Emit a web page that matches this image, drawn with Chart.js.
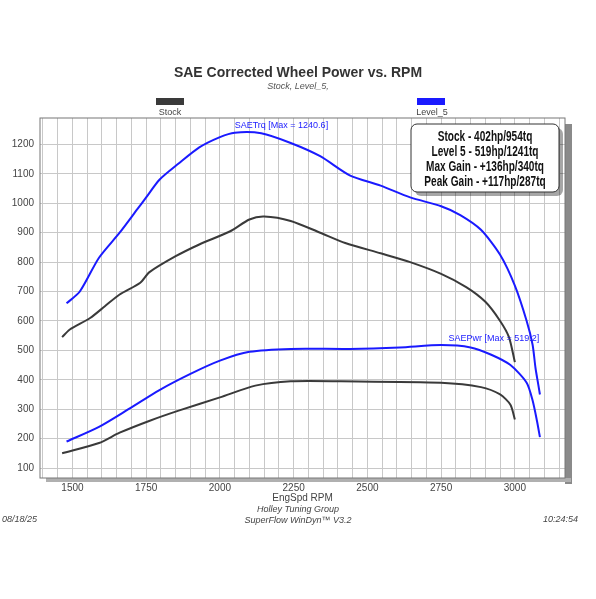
<!DOCTYPE html>
<html>
<head>
<meta charset="utf-8">
<script src="https://cdn.jsdelivr.net/npm/chart.js@4/dist/chart.umd.min.js"></script>
<style>
  html, body { margin: 0; padding: 0; background: #fff; }
  #wrap { width: 596px; height: 599px; position: relative; }
</style>
</head>
<body>
<div id="wrap"><canvas id="c" width="596" height="599"></canvas></div>
<script>
const stockTrqRpm = [1465, 1490, 1560, 1610, 1660, 1730, 1760, 1850, 1930, 2035, 2100, 2150, 2240, 2340, 2425, 2545, 2645, 2750, 2835, 2900, 2950, 2980, 3000];
const stockTrq    = [545, 570, 610, 650, 690, 730, 765, 820, 860, 905, 945, 955, 940, 900, 865, 830, 800, 760, 715, 665, 600, 545, 460];
const lvlTrqRpm = [1480, 1525, 1590, 1660, 1720, 1750, 1795, 1860, 1930, 2000, 2050, 2140, 2240, 2340, 2440, 2545, 2645, 2750, 2815, 2885, 2950, 3000, 3040, 3060, 3070, 3080, 3085];
const lvlTrq    = [660, 700, 815, 900, 980, 1020, 1080, 1135, 1190, 1225, 1240, 1238, 1205, 1160, 1095, 1060, 1020, 990, 960, 910, 825, 720, 600, 520, 440, 380, 350];
const stockPwrRpm = [1465, 1590, 1660, 1760, 1860, 2000, 2120, 2240, 2410, 2750, 2885, 2950, 2985, 3000];
const stockPwr    = [150, 185, 220, 260, 295, 340, 380, 395, 395, 390, 375, 350, 315, 265];
const lvlPwrRpm = [1480, 1590, 1690, 1795, 1900, 2000, 2100, 2240, 2440, 2610, 2750, 2850, 2920, 2985, 3040, 3060, 3075, 3085];
const lvlPwr    = [190, 240, 300, 365, 420, 465, 495, 505, 505, 510, 518, 510, 485, 450, 390, 330, 260, 205];
const summary = ["Stock - 402hp/954tq", "Level 5 - 519hp/1241tq", "Max Gain - +136hp/340tq", "Peak Gain - +117hp/287tq"];

const pts = (xs, ys) => xs.map((x, i) => ({ x: x, y: ys[i] }));
const STOCK = "#3a3a3a", BLUE = "#1a1aff";
const FONT = "Arial, 'Liberation Sans'";

const decor = {
  id: "decor",
  beforeDraw(chart) {
    const ctx = chart.ctx, a = chart.chartArea;
    ctx.save();
    ctx.fillStyle = "#fff";
    ctx.fillRect(0, 0, chart.width, chart.height);
    ctx.fillStyle = "#8a8a8a";
    ctx.fillRect(a.right, a.top + 6, 7, a.bottom - a.top);
    ctx.fillStyle = "#b0b0b0";
    ctx.fillRect(a.left + 6, a.bottom, a.right - a.left, 4);
    ctx.fillStyle = "#fff";
    ctx.fillRect(a.left, a.top, a.right - a.left, a.bottom - a.top);
    ctx.restore();
  },
  afterDraw(chart) {
    const ctx = chart.ctx, a = chart.chartArea;
    const xs = chart.scales.x, ys = chart.scales.y;
    ctx.save();
    ctx.strokeStyle = "#777"; ctx.lineWidth = 1;
    ctx.strokeRect(a.left, a.top, a.right - a.left, a.bottom - a.top);
    ctx.textAlign = "center";
    ctx.fillStyle = "#333";
    ctx.font = "bold 14px " + FONT;
    ctx.fillText("SAE Corrected Wheel Power vs. RPM", 298, 77);
    ctx.fillStyle = "#555";
    ctx.font = "italic 9px " + FONT;
    ctx.fillText("Stock, Level_5,", 298, 89);
    // legend
    ctx.fillStyle = STOCK; ctx.fillRect(156, 98, 28, 7);
    ctx.fillStyle = BLUE; ctx.fillRect(417, 98, 28, 7);
    ctx.fillStyle = "#444"; ctx.font = "9px " + FONT;
    ctx.fillText("Stock", 170, 115);
    ctx.fillText("Level_5", 432, 115);
    // annotations
    ctx.fillStyle = BLUE; ctx.font = "9px " + FONT;
    ctx.textAlign = "left";
    ctx.fillText("SAETrq [Max = 1240.6]", xs.getPixelForValue(2050), ys.getPixelForValue(1240) - 5);
    ctx.fillText("SAEPwr [Max = 519.2]", xs.getPixelForValue(2775), ys.getPixelForValue(518) - 4);
    // summary box
    const bx = 411, by = 124, bw = 148, bh = 68;
    ctx.fillStyle = "rgba(0,0,0,0.35)";
    ctx.beginPath(); ctx.roundRect(bx + 4, by + 4, bw, bh, 6); ctx.fill();
    ctx.fillStyle = "#fff"; ctx.strokeStyle = "#333"; ctx.lineWidth = 1;
    ctx.beginPath(); ctx.roundRect(bx, by, bw, bh, 6); ctx.fill(); ctx.stroke();
    ctx.fillStyle = "#111"; ctx.textAlign = "center";
    ctx.font = "bold 14px 'Liberation Sans', Arial";
    ctx.save();
    ctx.translate(bx + bw / 2, 0);
    ctx.scale(0.72, 1);
    summary.forEach((s, i) => ctx.fillText(s, 0, by + 17 + i * 15));
    ctx.restore();
    // footer
    ctx.fillStyle = "#444"; ctx.font = "italic 9px " + FONT;
    ctx.fillText("Holley Tuning Group", 298, 512);
    ctx.fillText("SuperFlow WinDyn\u2122 V3.2", 298, 523);
    ctx.textAlign = "left"; ctx.fillText("08/18/25", 2, 522);
    ctx.textAlign = "right"; ctx.fillText("10:24:54", 578, 522);
    ctx.restore();
  }
};

const line = (data, color) => ({ data: data, borderColor: color, borderWidth: 2, pointRadius: 0, tension: 0.25, fill: false });

new Chart(document.getElementById("c"), {
  type: "line",
  data: {
    datasets: [
      line(pts(lvlTrqRpm, lvlTrq), BLUE),
      line(pts(stockTrqRpm, stockTrq), STOCK),
      line(pts(lvlPwrRpm, lvlPwr), BLUE),
      line(pts(stockPwrRpm, stockPwr), STOCK)
    ]
  },
  options: {
    responsive: false, animation: false,
    layout: { padding: { left: 0, top: 118, right: 31, bottom: 95 } },
    plugins: { legend: { display: false }, tooltip: { enabled: false } },
    scales: {
      x: {
        type: "linear", min: 1390, max: 3170,
        afterFit: s => { s.height = 26; },
        grid: { color: "#c8c8c8", drawTicks: false },
        border: { display: false },
        ticks: {
          autoSkip: false, maxRotation: 0, color: "#444", padding: 4,
          font: { size: 10, family: FONT },
          callback: v => (v % 250 === 0 ? String(v) : "")
        },
        afterBuildTicks: s => { s.ticks = []; for (let v = 1400; v <= 3150; v += 50) s.ticks.push({ value: v }); },
        title: { display: true, text: "EngSpd RPM", color: "#444", padding: 0, font: { size: 10, family: FONT } }
      },
      y: {
        min: 66, max: 1290,
        afterFit: s => { s.width = 40; },
        grid: { color: "#c8c8c8", drawTicks: false },
        border: { display: false },
        afterBuildTicks: s => { s.ticks = []; for (let v = 100; v <= 1200; v += 100) s.ticks.push({ value: v }); },
        ticks: { color: "#444", padding: 6, font: { size: 10, family: FONT }, callback: v => String(v) }
      }
    }
  },
  plugins: [decor]
});
</script>
</body>
</html>
